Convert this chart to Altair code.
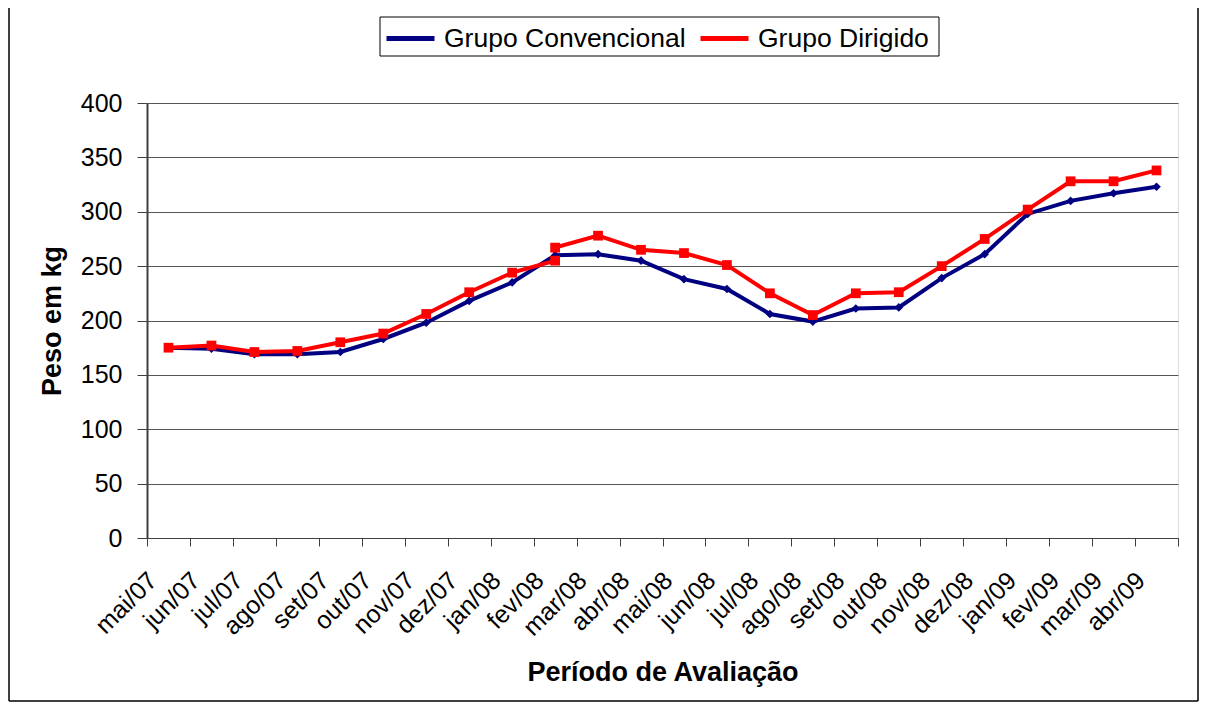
import altair as alt
import pandas as pd

months = ["mai/07", "jun/07", "jul/07", "ago/07", "set/07", "out/07", "nov/07", "dez/07",
          "jan/08", "fev/08", "mar/08", "abr/08", "mai/08", "jun/08", "jul/08", "ago/08",
          "set/08", "out/08", "nov/08", "dez/08", "jan/09", "fev/09", "mar/09", "abr/09"]

conv_values = [175, 174, 169, 169, 171, 183, 198, 218, 235, 260, 261, 255,
               238, 229, 206, 199, 211, 212, 239, 261, 298, 310, 317, 323]

# the red series has two readings at fev/08
dirig_months = months[:10] + ["fev/08"] + months[10:]
dirig_values = [175, 177, 171, 172, 180, 188, 206, 226, 244, 255, 267, 278, 265,
                262, 251, 225, 205, 225, 226, 250, 275, 302, 328, 328, 338]

series_names = ["Grupo Convencional", "Grupo Dirigido"]
series_colors = ["#000080", "#FF0000"]
y_ticks = [0, 50, 100, 150, 200, 250, 300, 350, 400]

rows = []
for i, (m, v) in enumerate(zip(months, conv_values)):
    rows.append({"mes": m, "peso": v, "grupo": series_names[0], "seq": i})
for i, (m, v) in enumerate(zip(dirig_months, dirig_values)):
    rows.append({"mes": m, "peso": v, "grupo": series_names[1], "seq": i})
df = pd.DataFrame(rows)

FONT = "Liberation Sans"
W, H = 1031, 435

x_enc = alt.X(
    "mes:N", sort=months, bandPosition=0.5,
    scale=alt.Scale(type="band", paddingInner=0, paddingOuter=0),
    axis=alt.Axis(
        title="Período de Avaliação", labelAngle=-45, labelAlign="right",
        labelBaseline="middle", labelFontSize=25, labelFont=FONT, labelColor="black",
        tickBand="extent", tickSize=8, tickColor="#404040", domainColor="#404040",
        labelPadding=30, labelOffset=-16, titleFontSize=27, titleFont=FONT,
        titleFontWeight="bold", titleColor="black", titlePadding=19, grid=False,
    ),
)
y_enc = alt.Y(
    "peso:Q",
    scale=alt.Scale(domain=[0, 400], nice=False),
    axis=alt.Axis(
        title="Peso em kg", values=y_ticks, labelFontSize=25, labelFont=FONT,
        labelColor="black", tickSize=10, tickColor="#404040", domainColor="#404040",
        domainWidth=2, labelPadding=15, titleFontSize=27, titleFont=FONT,
        titleFontWeight="bold", titleColor="black", titlePadding=14,
        grid=True, gridColor="#555555", gridWidth=1,
    ),
)

# legend box (decoration behind the native legend)
legend_box = alt.Chart().mark_rect(fill="white", stroke="black", strokeWidth=1).encode(
    x=alt.value(233), x2=alt.value(792), y=alt.value(-86), y2=alt.value(-47)
)

lines = alt.Chart(df).mark_line(strokeWidth=4).encode(
    x=x_enc, y=y_enc,
    order=alt.Order("seq:Q"),
    color=alt.Color(
        "grupo:N",
        scale=alt.Scale(domain=series_names, range=series_colors),
        legend=alt.Legend(
            title=None, orient="none", legendX=237, legendY=-91, direction="horizontal",
            symbolType="stroke", symbolSize=2304, symbolStrokeWidth=5,
            labelFontSize=26.5, labelFont=FONT, labelColor="black", labelOffset=7,
            columnPadding=4, padding=0, labelLimit=400,
        ),
    ),
)

conv_pts = alt.Chart(df).transform_filter(
    alt.datum.grupo == series_names[0]
).mark_point(shape="diamond", filled=True, size=75, color=series_colors[0], opacity=1).encode(
    x=x_enc, y=y_enc
)
dirig_pts = alt.Chart(df).transform_filter(
    alt.datum.grupo == series_names[1]
).mark_square(size=95, color=series_colors[1], opacity=1).encode(
    x=x_enc, y=y_enc
)

# outer chart frame (left, right, bottom edges)
frame_left = alt.Chart().mark_rule(color="black", strokeWidth=1.5).encode(
    x=alt.value(-138), y=alt.value(-95), y2=alt.value(H + 163)
)
frame_right = alt.Chart().mark_rule(color="black", strokeWidth=1.5).encode(
    x=alt.value(W + 20), y=alt.value(-95), y2=alt.value(H + 163)
)
frame_bottom = alt.Chart().mark_rule(color="black", strokeWidth=1.5).encode(
    x=alt.value(-138), x2=alt.value(W + 20), y=alt.value(H + 163)
)

chart = alt.layer(
    legend_box, lines, conv_pts, dirig_pts, frame_left, frame_right, frame_bottom
).properties(
    width=W, height=H,
    autosize=alt.AutoSizeParams(type="none"),
    padding={"left": 139, "top": 95, "right": 21, "bottom": 164},
).configure_view(stroke="#808080", strokeWidth=1).configure(background="white")

chart.save("out.html", embed_options={"renderer": "svg", "actions": False})
